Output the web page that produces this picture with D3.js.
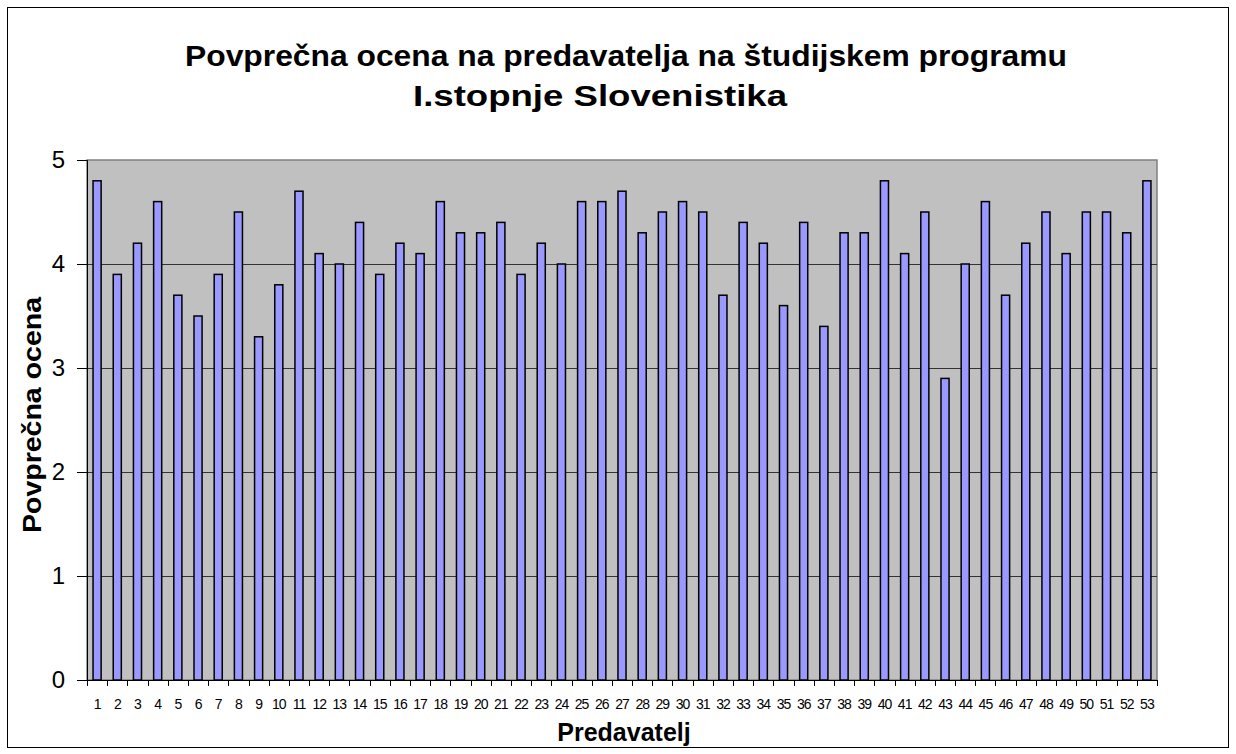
<!DOCTYPE html>
<html>
<head>
<meta charset="utf-8">
<title>Povprečna ocena na predavatelja</title>
<script src="https://cdn.jsdelivr.net/npm/d3@7"></script>
<style>
  body { margin: 0; background: #fff; }
  svg { display: block; font-family: "Liberation Sans", Arial, sans-serif; }
</style>
</head>
<body>
<svg id="chart"></svg>
<script>
// data
var predavatelji = d3.range(1, 54).map(String);
var ocene = [4.8, 3.9, 4.2, 4.6, 3.7, 3.5, 3.9, 4.5, 3.3, 3.8,
             4.7, 4.1, 4.0, 4.4, 3.9, 4.2, 4.1, 4.6, 4.3, 4.3,
             4.4, 3.9, 4.2, 4.0, 4.6, 4.6, 4.7, 4.3, 4.5, 4.6,
             4.5, 3.7, 4.4, 4.2, 3.6, 4.4, 3.4, 4.3, 4.3, 4.8,
             4.1, 4.5, 2.9, 4.0, 4.6, 3.7, 4.2, 4.5, 4.1, 4.5,
             4.5, 4.3, 4.8];
var yTicks = [0, 1, 2, 3, 4, 5];

var width = 1236, height = 754;
var pLeft = 87, pRight = 1157, pTop = 160, pBottom = 680;

var svg = d3.select("#chart").attr("width", width).attr("height", height);

// outer frame
svg.append("rect")
    .attr("x", 7.5).attr("y", 7.5)
    .attr("width", 1221).attr("height", 740)
    .attr("fill", "#fff").attr("stroke", "#000").attr("stroke-width", 1);

var x = d3.scaleBand().domain(predavatelji).range([pLeft, pRight]).paddingInner(0.6).paddingOuter(0.3);
var xOuter = d3.scaleBand().domain(predavatelji).range([pLeft, pRight]);
var y = d3.scaleLinear().domain([0, 5]).range([pBottom, pTop]);

// plot background
svg.append("rect")
    .attr("x", pLeft).attr("y", pTop)
    .attr("width", pRight - pLeft).attr("height", pBottom - pTop)
    .attr("fill", "#c0c0c0").attr("stroke", "#808080").attr("stroke-width", 1.5);

// gridlines
svg.append("g").selectAll("line")
    .data(yTicks.slice(1, -1))
    .enter().append("line")
    .attr("x1", pLeft).attr("x2", pRight)
    .attr("y1", function(d) { return Math.round(y(d)) + 0.5; })
    .attr("y2", function(d) { return Math.round(y(d)) + 0.5; })
    .attr("stroke", "#333").attr("stroke-width", 1);

// bars
svg.append("g").selectAll("rect")
    .data(ocene)
    .enter().append("rect")
    .attr("x", function(d, i) { return x(predavatelji[i]); })
    .attr("y", function(d) { return y(d); })
    .attr("width", x.bandwidth())
    .attr("height", function(d) { return y(0) - y(d); })
    .attr("fill", "#9999ff")
    .attr("stroke", "#000").attr("stroke-width", 1.5);

// y axis
var yAxis = d3.axisLeft(y).tickValues(yTicks).tickSize(10).tickPadding(12).tickFormat(d3.format("d"));
var gy = svg.append("g").attr("transform", "translate(" + pLeft + ",0)").call(yAxis);
gy.select(".domain").attr("stroke", "#000");
gy.selectAll("line").attr("stroke", "#000");
gy.selectAll("text").attr("font-size", 24).attr("fill", "#000")
    .attr("font-family", "Liberation Sans, Arial, sans-serif");

// x axis: ticks between categories
svg.append("line")
    .attr("x1", pLeft).attr("x2", pRight)
    .attr("y1", pBottom + 0.5).attr("y2", pBottom + 0.5)
    .attr("stroke", "#000");
svg.append("g").selectAll("line")
    .data(predavatelji.concat(["end"]))
    .enter().append("line")
    .attr("x1", function(d, i) { return Math.round(pLeft + i * xOuter.step()) + 0.5; })
    .attr("x2", function(d, i) { return Math.round(pLeft + i * xOuter.step()) + 0.5; })
    .attr("y1", pBottom).attr("y2", pBottom + 6)
    .attr("stroke", "#000");
svg.append("g").selectAll("text")
    .data(predavatelji)
    .enter().append("text")
    .attr("x", function(d) { return xOuter(d) + xOuter.bandwidth() / 2; })
    .attr("y", 709)
    .attr("text-anchor", "middle")
    .attr("font-size", 14)
    .attr("letter-spacing", -1)
    .text(function(d) { return d; });

// titles
svg.append("text")
    .attr("x", 626).attr("y", 66)
    .attr("text-anchor", "middle")
    .attr("font-size", 29).attr("font-weight", "bold")
    .attr("textLength", 882).attr("lengthAdjust", "spacingAndGlyphs")
    .text("Povprečna ocena na predavatelja na študijskem programu");
svg.append("text")
    .attr("x", 600).attr("y", 106)
    .attr("text-anchor", "middle")
    .attr("font-size", 29).attr("font-weight", "bold")
    .attr("textLength", 374).attr("lengthAdjust", "spacingAndGlyphs")
    .text("I.stopnje Slovenistika");

svg.append("text")
    .attr("x", 624).attr("y", 741)
    .attr("text-anchor", "middle")
    .attr("font-size", 25).attr("font-weight", "bold")
    .text("Predavatelj");

svg.append("text")
    .attr("transform", "translate(41," + ((pTop + pBottom) / 2 - 5) + ") rotate(-90)")
    .attr("text-anchor", "middle")
    .attr("font-size", 26).attr("font-weight", "bold")
    .attr("textLength", 236).attr("lengthAdjust", "spacingAndGlyphs")
    .text("Povprečna ocena");
</script>
</body>
</html>
